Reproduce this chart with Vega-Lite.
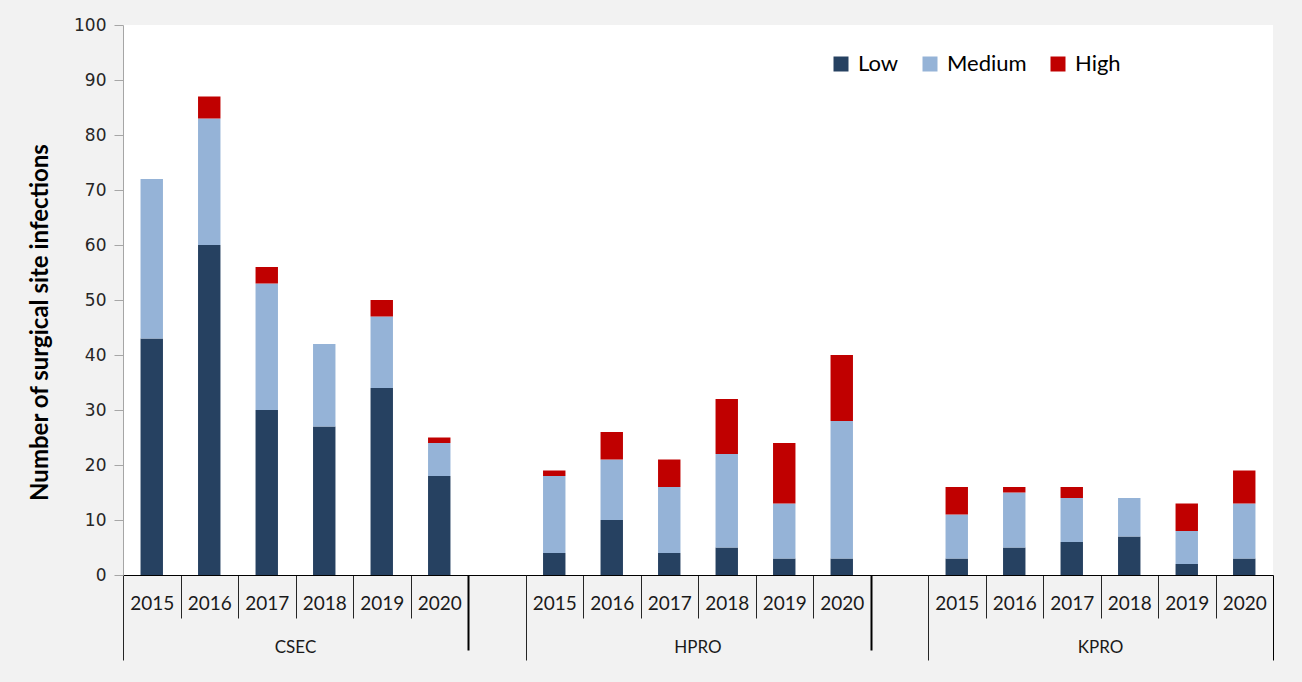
{
  "$schema": "https://vega.github.io/schema/vega-lite/v6.json",
  "autosize": {"type": "none"},
  "padding": {"left": 123, "top": 25, "right": 29, "bottom": 107},
  "width": 1150,
  "height": 550,
  "background": "#f2f2f2",
  "config": {
    "view": {"fill": "white", "stroke": null},
    "axis": {"labelFont": "Lato", "titleFont": "Lato"},
    "legend": {"labelFont": "Lato"}
  },
  "data": {
    "values": [
      {"cat": "CSEC|2015", "level": "Low", "rank": 1, "value": 43},
      {"cat": "CSEC|2015", "level": "Medium", "rank": 2, "value": 29},
      {"cat": "CSEC|2016", "level": "Low", "rank": 1, "value": 60},
      {"cat": "CSEC|2016", "level": "Medium", "rank": 2, "value": 23},
      {"cat": "CSEC|2016", "level": "High", "rank": 3, "value": 4},
      {"cat": "CSEC|2017", "level": "Low", "rank": 1, "value": 30},
      {"cat": "CSEC|2017", "level": "Medium", "rank": 2, "value": 23},
      {"cat": "CSEC|2017", "level": "High", "rank": 3, "value": 3},
      {"cat": "CSEC|2018", "level": "Low", "rank": 1, "value": 27},
      {"cat": "CSEC|2018", "level": "Medium", "rank": 2, "value": 15},
      {"cat": "CSEC|2019", "level": "Low", "rank": 1, "value": 34},
      {"cat": "CSEC|2019", "level": "Medium", "rank": 2, "value": 13},
      {"cat": "CSEC|2019", "level": "High", "rank": 3, "value": 3},
      {"cat": "CSEC|2020", "level": "Low", "rank": 1, "value": 18},
      {"cat": "CSEC|2020", "level": "Medium", "rank": 2, "value": 6},
      {"cat": "CSEC|2020", "level": "High", "rank": 3, "value": 1},
      {"cat": "HPRO|2015", "level": "Low", "rank": 1, "value": 4},
      {"cat": "HPRO|2015", "level": "Medium", "rank": 2, "value": 14},
      {"cat": "HPRO|2015", "level": "High", "rank": 3, "value": 1},
      {"cat": "HPRO|2016", "level": "Low", "rank": 1, "value": 10},
      {"cat": "HPRO|2016", "level": "Medium", "rank": 2, "value": 11},
      {"cat": "HPRO|2016", "level": "High", "rank": 3, "value": 5},
      {"cat": "HPRO|2017", "level": "Low", "rank": 1, "value": 4},
      {"cat": "HPRO|2017", "level": "Medium", "rank": 2, "value": 12},
      {"cat": "HPRO|2017", "level": "High", "rank": 3, "value": 5},
      {"cat": "HPRO|2018", "level": "Low", "rank": 1, "value": 5},
      {"cat": "HPRO|2018", "level": "Medium", "rank": 2, "value": 17},
      {"cat": "HPRO|2018", "level": "High", "rank": 3, "value": 10},
      {"cat": "HPRO|2019", "level": "Low", "rank": 1, "value": 3},
      {"cat": "HPRO|2019", "level": "Medium", "rank": 2, "value": 10},
      {"cat": "HPRO|2019", "level": "High", "rank": 3, "value": 11},
      {"cat": "HPRO|2020", "level": "Low", "rank": 1, "value": 3},
      {"cat": "HPRO|2020", "level": "Medium", "rank": 2, "value": 25},
      {"cat": "HPRO|2020", "level": "High", "rank": 3, "value": 12},
      {"cat": "KPRO|2015", "level": "Low", "rank": 1, "value": 3},
      {"cat": "KPRO|2015", "level": "Medium", "rank": 2, "value": 8},
      {"cat": "KPRO|2015", "level": "High", "rank": 3, "value": 5},
      {"cat": "KPRO|2016", "level": "Low", "rank": 1, "value": 5},
      {"cat": "KPRO|2016", "level": "Medium", "rank": 2, "value": 10},
      {"cat": "KPRO|2016", "level": "High", "rank": 3, "value": 1},
      {"cat": "KPRO|2017", "level": "Low", "rank": 1, "value": 6},
      {"cat": "KPRO|2017", "level": "Medium", "rank": 2, "value": 8},
      {"cat": "KPRO|2017", "level": "High", "rank": 3, "value": 2},
      {"cat": "KPRO|2018", "level": "Low", "rank": 1, "value": 7},
      {"cat": "KPRO|2018", "level": "Medium", "rank": 2, "value": 7},
      {"cat": "KPRO|2019", "level": "Low", "rank": 1, "value": 2},
      {"cat": "KPRO|2019", "level": "Medium", "rank": 2, "value": 6},
      {"cat": "KPRO|2019", "level": "High", "rank": 3, "value": 5},
      {"cat": "KPRO|2020", "level": "Low", "rank": 1, "value": 3},
      {"cat": "KPRO|2020", "level": "Medium", "rank": 2, "value": 10},
      {"cat": "KPRO|2020", "level": "High", "rank": 3, "value": 6}
    ]
  },
  "resolve": {"axis": {"x": "independent"}},
  "layer": [
    {
      "mark": {"type": "bar"},
      "encoding": {
        "x": {
          "field": "cat", "type": "nominal",
          "scale": {
            "domain": ["CSEC|2015","CSEC|2016","CSEC|2017","CSEC|2018","CSEC|2019","CSEC|2020","gap1",
                       "HPRO|2015","HPRO|2016","HPRO|2017","HPRO|2018","HPRO|2019","HPRO|2020","gap2",
                       "KPRO|2015","KPRO|2016","KPRO|2017","KPRO|2018","KPRO|2019","KPRO|2020"],
            "paddingInner": 0.61, "paddingOuter": 0.305
          },
          "axis": {
            "orient": "bottom", "title": null, "labelAngle": 0,
            "labelExpr": "indexof(datum.value + '', '|') >= 0 ? split(datum.value + '', '|')[1] : ''",
            "tickOffset": -28.75, "labelOffset": 28.75,
            "tickSize": 43, "tickColor": "#262626", "tickWidth": 1,
            "domainColor": "#000000", "domainWidth": 1.2,
            "labelFontSize": 19, "labelColor": "#1a1a1a", "labelPadding": -15, "labelBaseline": "middle"
          }
        },
        "y": {
          "field": "value", "type": "quantitative", "stack": "zero",
          "scale": {"domain": [0, 100], "nice": false},
          "axis": {
            "title": "Number of surgical site infections",
            "titleFontSize": 24, "titleFontWeight": "bold", "titleColor": "#000000",
            "titleX": -71, "titleY": 297, "titleAngle": 270, "titleAlign": "center", "titleBaseline": "bottom",
            "values": [0,10,20,30,40,50,60,70,80,90,100],
            "labelFontSize": 17, "labelFont": "DejaVu Sans", "labelColor": "#262626", "labelPadding": 8,
            "tickSize": 9, "tickColor": "#a6a6a6", "domainColor": "#a6a6a6", "grid": false
          }
        },
        "color": {
          "field": "level", "type": "nominal",
          "scale": {"domain": ["Low", "Medium", "High"], "range": ["#264161", "#95b3d7", "#c00000"]},
          "legend": {
            "title": null, "orient": "none", "direction": "horizontal",
            "legendX": 707, "legendY": 28,
            "symbolType": "square", "symbolSize": 225, "symbolStrokeWidth": 0, "symbolOpacity": 1,
            "labelFontSize": 22, "labelColor": "#000000", "columnPadding": 20, "labelOffset": 6
          }
        },
        "order": {"field": "rank", "type": "quantitative"}
      }
    },
    {
      "mark": {"type": "bar", "opacity": 0},
      "encoding": {
        "x": {
          "field": "cat", "type": "nominal",
          "axis": {
            "orient": "bottom", "title": null, "labelAngle": 0, "domain": false, "ticks": false,
            "values": ["CSEC|2018", "HPRO|2018", "KPRO|2018"],
            "labelOffset": -28.75,
            "labelExpr": "split(datum.value + '', '|')[0]",
            "labelFontSize": 17, "labelColor": "#1a1a1a", "labelPadding": 72, "labelBaseline": "middle"
          }
        },
        "y": {"field": "value", "type": "quantitative", "stack": "zero"},
        "order": {"field": "rank", "type": "quantitative"}
      }
    },
    {
      "mark": {"type": "bar", "opacity": 0},
      "encoding": {
        "x": {
          "field": "cat", "type": "nominal",
          "axis": {
            "orient": "bottom", "title": null, "labels": false, "domain": false,
            "values": ["CSEC|2015", "HPRO|2015", "KPRO|2015"],
            "tickOffset": -28.75, "tickSize": 85, "tickColor": "#262626", "tickWidth": 1
          }
        },
        "y": {"field": "value", "type": "quantitative", "stack": "zero"},
        "order": {"field": "rank", "type": "quantitative"}
      }
    },
    {
      "mark": {"type": "bar", "opacity": 0},
      "encoding": {
        "x": {
          "field": "cat", "type": "nominal",
          "axis": {
            "orient": "bottom", "title": null, "labels": false, "domain": false,
            "values": ["CSEC|2020", "HPRO|2020"],
            "tickOffset": 28.75, "tickSize": 75, "tickColor": "#000000", "tickWidth": 2
          }
        },
        "y": {"field": "value", "type": "quantitative", "stack": "zero"},
        "order": {"field": "rank", "type": "quantitative"}
      }
    },
    {
      "mark": {"type": "bar", "opacity": 0},
      "encoding": {
        "x": {
          "field": "cat", "type": "nominal",
          "axis": {
            "orient": "bottom", "title": null, "labels": false, "domain": false,
            "values": ["KPRO|2020"],
            "tickOffset": 28.75, "tickSize": 85, "tickColor": "#000000", "tickWidth": 1
          }
        },
        "y": {"field": "value", "type": "quantitative", "stack": "zero"},
        "order": {"field": "rank", "type": "quantitative"}
      }
    }
  ]
}
